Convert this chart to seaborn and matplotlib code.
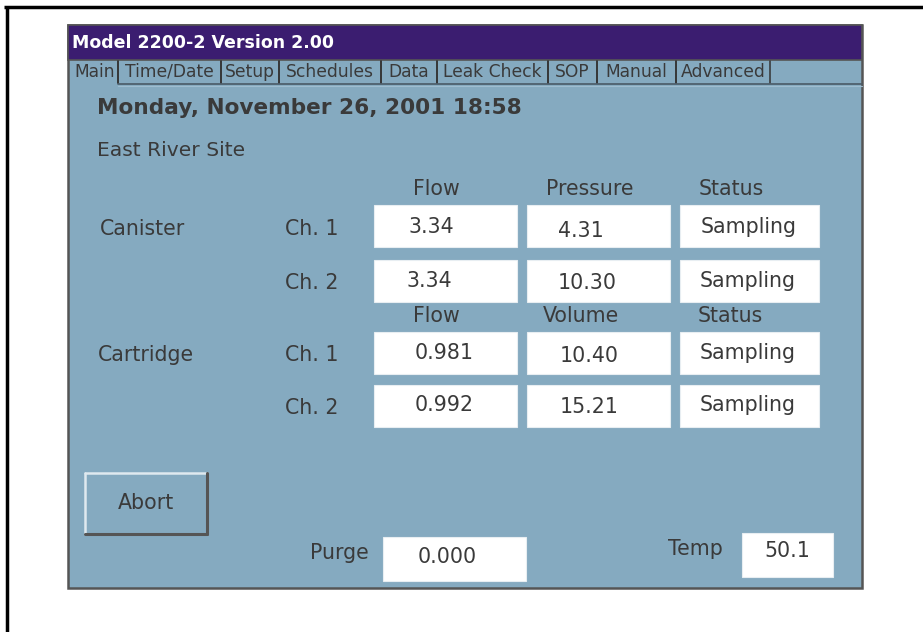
import matplotlib
matplotlib.use("Agg")
import matplotlib.pyplot as plt
from matplotlib.patches import Rectangle
import seaborn as sns

sns.set_theme(style="white")
plt.rcParams['font.family'] = ['DejaVu Sans']

# ---- content ----
title = "Model 2200-2 Version 2.00"
tabs = ["Main", "Time/Date", "Setup", "Schedules", "Data", "Leak Check", "SOP", "Manual", "Advanced"]
date_text = "Monday, November 26, 2001 18:58"
site = "East River Site"
groups = ["Canister", "Cartridge"]
channels = ["Ch. 1", "Ch. 2", "Ch. 1", "Ch. 2"]
headers_canister = ["Flow", "Pressure", "Status"]
headers_cartridge = ["Flow", "Volume", "Status"]
flow_vals = ["3.34", "3.34", "0.981", "0.992"]
second_vals = ["4.31", "10.30", "10.40", "15.21"]
status_vals = ["Sampling", "Sampling", "Sampling", "Sampling"]
button_label = "Abort"
purge_label, purge_val = "Purge", "0.000"
temp_label, temp_val = "Temp", "50.1"

# ---- layout (pixel coordinates) ----
W, H = 923, 632
BG = "#85aac0"
PURPLE = "#3b1d70"
TXT = "#3a3a3a"
tab_edges = [72, 118, 221, 279, 381, 437, 548, 597, 676, 770]
row_tops = [205, 260, 332, 385]
row_h = 42
col_spans = [(374, 517), (527, 670), (680, 819)]
text_x = [[408, 407, 415, 415], [558, 558, 560, 560], [701, 700, 700, 700]]
text_y = [[227, 281, 353, 405], [231, 283, 356, 407], [227, 281, 353, 405]]
label_y = [229, 283, 355, 408]
header_y = [189, 316]
header_x = [[436, 590, 731], [436, 581, 730]]

fig = plt.figure(figsize=(W / 100, H / 100), dpi=100)
ax = fig.add_axes([0, 0, 1, 1])
ax.set_xlim(0, W)
ax.set_ylim(H, 0)
ax.axis("off")

FS = 14.8

# outer frame
ax.plot([4, W], [7, 7], color="black", lw=2.5, solid_capstyle="butt")
ax.plot([7, 7], [6, H], color="black", lw=2.5, solid_capstyle="butt")

# panel
ax.add_patch(Rectangle((68, 25), 862 - 68, 588 - 25, facecolor=BG, edgecolor="#555555", lw=1.8))
ax.add_patch(Rectangle((68, 25), 862 - 68, 35, facecolor=PURPLE, edgecolor="#555555", lw=1.2))
ax.text(72, 43, title, color="white", fontsize=12.5, fontweight="bold", ha="left", va="center")

# tabs
for i, name in enumerate(tabs):
    x0, x1 = tab_edges[i], tab_edges[i + 1]
    if i > 0:
        ax.plot([x0, x0], [61, 83], color="#333333", lw=1.1)
    ax.plot([x1, x1], [61, 83], color="#333333", lw=1.1)
    ax.text((x0 + x1) / 2, 72, name, color=TXT, fontsize=12.3, ha="center", va="center")
ax.plot([118, 862], [83.5, 83.5], color="#4a5a66", lw=1.2)
ax.plot([118, 862], [85.5, 85.5], color="#9fbdd0", lw=0.8)

# date and site
ax.text(97, 108, date_text, color=TXT, fontsize=15.6, fontweight="bold", ha="left", va="center")
ax.text(97, 151, site, color=TXT, fontsize=14.6, ha="left", va="center")

# headers
for hy, hx, hs in zip(header_y, header_x, [headers_canister, headers_cartridge]):
    for x, s in zip(hx, hs):
        ax.text(x, hy, s, color=TXT, fontsize=FS, ha="center", va="center")

# group labels
ax.text(100, label_y[0], groups[0], color=TXT, fontsize=FS, ha="left", va="center")
ax.text(98, label_y[2], groups[1], color=TXT, fontsize=FS, ha="left", va="center")
for y, ch in zip(label_y, channels):
    ax.text(285, y, ch, color=TXT, fontsize=FS, ha="left", va="center")

# value cells
columns = [flow_vals, second_vals, status_vals]
for c, (span, vals) in enumerate(zip(col_spans, columns)):
    for r, v in enumerate(vals):
        x0, x1 = span
        ax.add_patch(Rectangle((x0, row_tops[r]), x1 - x0, row_h, facecolor="white",
                               edgecolor="#e8eef2", lw=0.8))
        ax.text(text_x[c][r], text_y[c][r], v, color=TXT, fontsize=FS, ha="left", va="center")

# Abort button (raised)
bx0, by0, bx1, by1 = 85, 473, 207, 534
ax.add_patch(Rectangle((bx0, by0), bx1 - bx0, by1 - by0, facecolor=BG, edgecolor="none"))
ax.plot([bx0, bx1], [by0, by0], color="#dfe9ef", lw=1.8)
ax.plot([bx0, bx0], [by0, by1], color="#dfe9ef", lw=1.8)
ax.plot([bx0, bx1], [by1, by1], color="#555555", lw=2.2)
ax.plot([bx1, bx1], [by0, by1], color="#555555", lw=2.2)
ax.text((bx0 + bx1) / 2, 503, button_label, color=TXT, fontsize=FS, ha="center", va="center")

# Purge and Temp
ax.text(310, 553, purge_label, color=TXT, fontsize=FS, ha="left", va="center")
ax.add_patch(Rectangle((383, 537), 526 - 383, 44, facecolor="white", edgecolor="#e8eef2", lw=0.8))
ax.text(418, 557, purge_val, color=TXT, fontsize=FS, ha="left", va="center")
ax.text(668, 549, temp_label, color=TXT, fontsize=FS, ha="left", va="center")
ax.add_patch(Rectangle((742, 533), 833 - 742, 44, facecolor="white", edgecolor="#e8eef2", lw=0.8))
ax.text(787, 551, temp_val, color=TXT, fontsize=FS, ha="center", va="center")

fig.savefig("out.png", dpi=100, facecolor="white")
